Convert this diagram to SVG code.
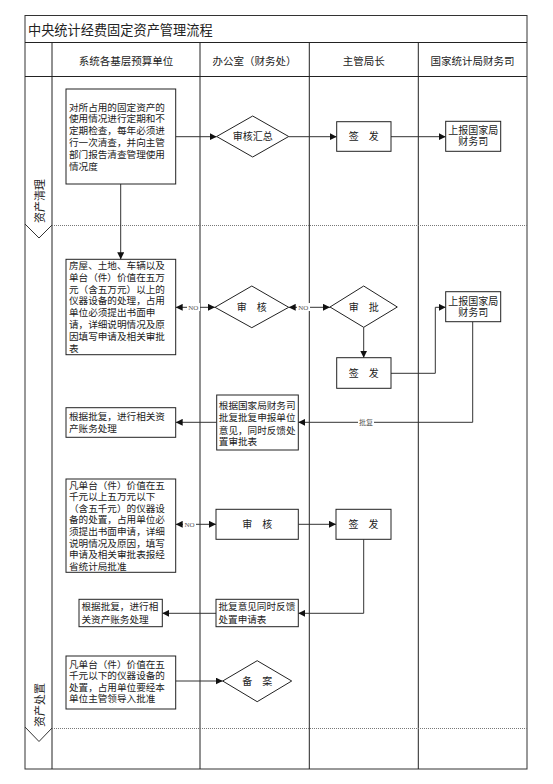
<svg xmlns="http://www.w3.org/2000/svg" width="553" height="784" viewBox="0 0 553 784">
<defs>
<marker id="ah" viewBox="0 0 8 8" refX="8" refY="4" markerWidth="7" markerHeight="7" markerUnits="userSpaceOnUse" orient="auto-start-reverse">
<path d="M0,0 L8,4 L0,8 Z" fill="#111"/>
</marker>
</defs>
<style>
text{font-family:"Liberation Serif","Noto Sans CJK SC",serif;fill:#222}
.t{font-size:9.6px}
.c{font-size:10px;text-anchor:middle}
.h{font-size:10.5px;text-anchor:middle}
.lab{font-size:7px;text-anchor:middle;fill:#555}
.frame{fill:none;stroke:#333;stroke-width:1}
.col{stroke:#222;stroke-width:1}
.dot{stroke:#777;stroke-width:1;stroke-dasharray:1,1}
.box{fill:#fff;stroke:#222;stroke-width:1}
.cn{fill:none;stroke:#333;stroke-width:1;marker-end:url(#ah)}
.cn2{fill:none;stroke:#333;stroke-width:1;marker-end:url(#ah);marker-start:url(#ah)}
.bg{fill:#fff}
</style>
<rect width="553" height="784" fill="#fff"/>
<g id="frame">
<rect class="frame" x="25" y="15.5" width="502" height="753.5"/>
<line class="col" x1="25" y1="42.5" x2="527" y2="42.5"/>
<line class="col" x1="25" y1="76.5" x2="527" y2="76.5"/>
<line class="col" x1="52" y1="42.5" x2="52" y2="769"/>
<line class="col" x1="200" y1="42.5" x2="200" y2="769"/>
<line class="col" x1="309.3" y1="42.5" x2="309.3" y2="769"/>
<line class="col" x1="418.3" y1="42.5" x2="418.3" y2="769"/>
<line class="dot" x1="52" y1="225.5" x2="527" y2="225.5"/>
<line class="dot" x1="52" y1="728.5" x2="527" y2="728.5"/>
<polyline class="frame" points="25,224 39,238 52,225"/>
<polyline class="frame" points="25,727 39,741.5 52,728"/>
<text x="28" y="35" style="font-size:13.2px">中央统计经费固定资产管理流程</text>
<text class="h" x="126" y="65">系统各基层预算单位</text>
<text class="h" x="254.6" y="65">办公室（财务处）</text>
<text class="h" x="363.8" y="65">主管局长</text>
<text class="h" x="472.6" y="65">国家统计局财务司</text>
<text transform="translate(44,223) rotate(-90)" style="font-size:11px">资产清理</text>
<text transform="translate(44,727) rotate(-90)" style="font-size:11px">资产处置</text>
</g>
<g id="connectors">
<line class="cn" x1="175.7" y1="136.7" x2="216.7" y2="136.7"/>
<line class="cn" x1="288.7" y1="136.7" x2="336.7" y2="136.7"/>
<line class="cn" x1="391" y1="136.7" x2="445.7" y2="136.7"/>
<line class="cn" x1="120.7" y1="184" x2="120.7" y2="259.3"/>
<line class="cn2" x1="215" y1="307.3" x2="175.7" y2="307.3"/>
<rect class="bg" x="187" y="303" width="13" height="8"/>
<text class="lab" x="193.3" y="309.5">NO</text>
<line class="cn2" x1="288.7" y1="307.3" x2="330" y2="307.3"/>
<rect class="bg" x="297" y="303" width="13" height="8"/>
<text class="lab" x="303.3" y="309.5">NO</text>
<line class="cn" x1="363.7" y1="327.3" x2="363.7" y2="357.7"/>
<polyline class="cn" points="391,373.3 435.3,373.3 435.3,307.3 445.7,307.3"/>
<polyline class="cn" points="472.7,321.7 472.7,422.3 298.3,422.3"/>
<rect class="bg" x="358" y="418" width="16" height="8"/>
<text class="lab" x="366" y="424.5">批复</text>
<line class="cn" x1="216.7" y1="422.3" x2="175.7" y2="422.3"/>
<line class="cn2" x1="175.7" y1="524.3" x2="216" y2="524.3"/>
<rect class="bg" x="183" y="520" width="13" height="8"/>
<text class="lab" x="189.5" y="526.5">NO</text>
<line class="cn" x1="298.3" y1="524.3" x2="336" y2="524.3"/>
<polyline class="cn" points="363.7,539.3 363.7,613.3 298.3,613.3"/>
<line class="cn" x1="216" y1="613.3" x2="162.3" y2="613.3"/>
<line class="cn" x1="175.7" y1="681" x2="222.7" y2="681"/>
</g>
<g id="n1">
<rect class="box" x="66" y="89" width="109.7" height="95"/>
<text class="t" x="69"><tspan x="69" y="110.5">对所占用的固定资产的</tspan><tspan x="69" y="122.4">使用情况进行定期和不</tspan><tspan x="69" y="134.3">定期检查，每年必须进</tspan><tspan x="69" y="146.2">行一次清查，并向主管</tspan><tspan x="69" y="158.1">部门报告清查管理使用</tspan><tspan x="69" y="170">情况度</tspan></text>
</g>
<g id="n2">
<polygon class="box" points="216.7,136.5 252.7,116 288.7,136.5 252.7,157"/>
<text class="c" x="252.7" y="140.2">审核汇总</text>
</g>
<g id="n3">
<rect class="box" x="336.7" y="121.7" width="54.3" height="29.6"/>
<text class="c" x="363.8" y="140.2">签　发</text>
</g>
<g id="n4">
<rect class="box" x="445.7" y="121.3" width="55" height="30"/>
<text class="c" x="473.2" y="134.4">上报国家局</text>
<text class="c" x="473.2" y="145.4">财务司</text>
</g>
<g id="n5">
<rect class="box" x="66" y="259.3" width="109.7" height="95.4"/>
<text class="t"><tspan x="69" y="269">房屋、土地、车辆以及</tspan><tspan x="69" y="280.8">单台（件）价值在五万</tspan><tspan x="69" y="292.6">元（含五万元）以上的</tspan><tspan x="69" y="304.4">仪器设备的处理，占用</tspan><tspan x="69" y="316.2">单位必须提出书面申</tspan><tspan x="69" y="328">请，详细说明情况及原</tspan><tspan x="69" y="339.8">因填写申请及相关审批</tspan><tspan x="69" y="351.6">表</tspan></text>
</g>
<g id="n6">
<polygon class="box" points="215,307.3 251.8,286 288.7,307.3 251.8,327.7"/>
<text class="c" x="251.8" y="311">审　核</text>
</g>
<g id="n7">
<polygon class="box" points="330,307 363.7,286 397.3,307 363.7,327.3"/>
<text class="c" x="363.7" y="310.7">审　批</text>
</g>
<g id="n8">
<rect class="box" x="336.7" y="357.7" width="54.3" height="30.6"/>
<text class="c" x="363.8" y="376.7">签　发</text>
</g>
<g id="n9">
<rect class="box" x="445.7" y="291.7" width="55" height="30"/>
<text class="c" x="473.2" y="304.7">上报国家局</text>
<text class="c" x="473.2" y="316.4">财务司</text>
</g>
<g id="n10">
<rect class="box" x="216.7" y="395" width="81.6" height="55"/>
<text class="t"><tspan x="218.8" y="408.7">根据国家局财务司</tspan><tspan x="218.8" y="421">批复批复申报单位</tspan><tspan x="218.8" y="433.7">意见，同时反馈处</tspan><tspan x="218.8" y="445.4">置审批表</tspan></text>
</g>
<g id="n11">
<rect class="box" x="66" y="407.7" width="109.7" height="29.6"/>
<text class="t"><tspan x="69" y="419.7">根据批复，进行相关资</tspan><tspan x="69" y="432">产账务处理</tspan></text>
</g>
<g id="n12">
<rect class="box" x="66" y="479" width="109.7" height="93.3"/>
<text class="t"><tspan x="69" y="488.7">凡单台（件）价值在五</tspan><tspan x="69" y="500.3">千元以上五万元以下</tspan><tspan x="69" y="511.8">（含五千元）的仪器设</tspan><tspan x="69" y="523.4">备的处置，占用单位必</tspan><tspan x="69" y="535">须提出书面申请，详细</tspan><tspan x="69" y="546.5">说明情况及原因，填写</tspan><tspan x="69" y="558.1">申请及相关审批表报经</tspan><tspan x="69" y="569.7">省统计局批准</tspan></text>
</g>
<g id="n13">
<rect class="box" x="216" y="509.3" width="82.3" height="30"/>
<text class="c" x="257.2" y="528">审　核</text>
</g>
<g id="n14">
<rect class="box" x="336" y="509.3" width="55" height="30"/>
<text class="c" x="363.5" y="528">签　发</text>
</g>
<g id="n15">
<rect class="box" x="216" y="599.3" width="82.3" height="27.4"/>
<text class="t"><tspan x="218.5" y="610.4">批复意见同时反馈</tspan><tspan x="218.5" y="622.7">处置申请表</tspan></text>
</g>
<g id="n16">
<rect class="box" x="79" y="599.3" width="83.3" height="27.4"/>
<text class="t"><tspan x="81.5" y="610.4">根据批复，进行相</tspan><tspan x="81.5" y="622.7">关资产账务处理</tspan></text>
</g>
<g id="n17">
<rect class="box" x="66" y="656" width="109.7" height="53"/>
<text class="t"><tspan x="69" y="668">凡单台（件）价值在五</tspan><tspan x="69" y="679.3">千元以下的仪器设备的</tspan><tspan x="69" y="690.6">处置，占用单位要经本</tspan><tspan x="69" y="701.9">单位主管领导入批准</tspan></text>
</g>
<g id="n18">
<polygon class="box" points="222.7,681 257.2,660.7 291.7,681 257.2,701.7"/>
<text class="c" x="257.2" y="684.7">备　案</text>
</g>
</svg>
